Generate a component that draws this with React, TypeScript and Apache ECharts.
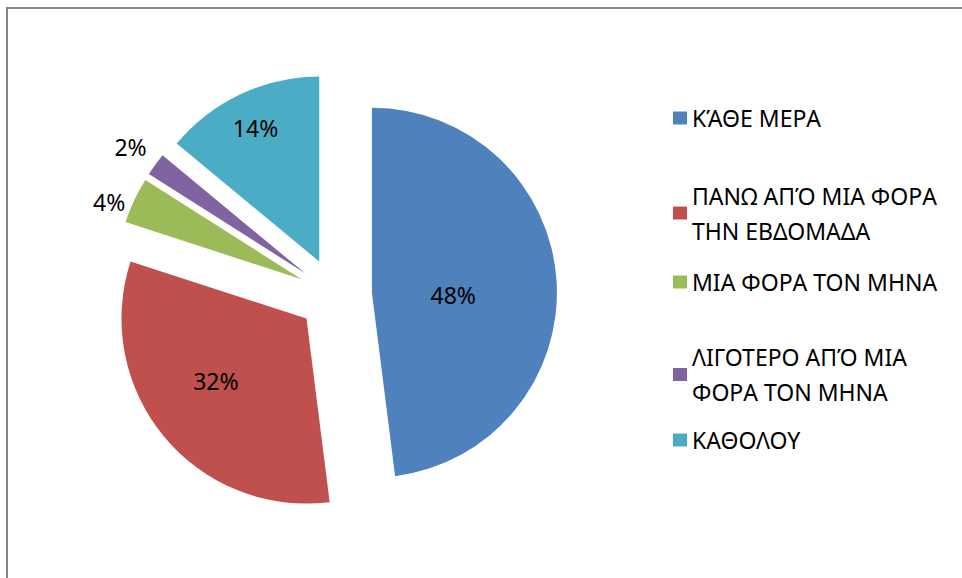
import React, { useEffect, useRef } from "react";
import * as echarts from "echarts";

const categories = [
  "ΚΆΘΕ ΜΕΡΑ",
  "ΠΑΝΩ ΑΠΌ ΜΙΑ ΦΟΡΑ ΤΗΝ ΕΒΔΟΜΑΔΑ",
  "ΜΙΑ ΦΟΡΑ ΤΟΝ ΜΗΝΑ",
  "ΛΙΓΟΤΕΡΟ ΑΠΌ ΜΙΑ ΦΟΡΑ ΤΟΝ ΜΗΝΑ",
  "ΚΑΘΟΛΟΥ",
];
const values = [48, 32, 4, 2, 14];
const legendLines: Record<string, string> = {
  "ΠΑΝΩ ΑΠΌ ΜΙΑ ΦΟΡΑ ΤΗΝ ΕΒΔΟΜΑΔΑ": "ΠΑΝΩ ΑΠΌ ΜΙΑ ΦΟΡΑ\nΤΗΝ ΕΒΔΟΜΑΔΑ",
  "ΛΙΓΟΤΕΡΟ ΑΠΌ ΜΙΑ ΦΟΡΑ ΤΟΝ ΜΗΝΑ": "ΛΙΓΟΤΕΡΟ ΑΠΌ ΜΙΑ\nΦΟΡΑ ΤΟΝ ΜΗΝΑ",
};
const colors = ["#4F81BD", "#C0504D", "#9BBB59", "#8064A2", "#4BACC6"];
const outsideLabel = [false, false, true, true, false];

// layout-only tweaks (not data)
const legendTops = [100.5, 160.5, 264.5, 322, 422.5];
const labelNudge = [
  [-14, 8],
  [-17, 2],
  [7, 7],
  [6, -10],
  [-23, -47],
];
const FONT = "'Noto Sans', sans-serif";

export default function App() {
  const ref = useRef<HTMLDivElement>(null);
  useEffect(() => {
    if (!ref.current) return;
    const chart = echarts.init(ref.current, null, { renderer: "svg" });
    const option: any = {
      animation: false,
      backgroundColor: "#ffffff",
      graphic: [
        {
          type: "rect",
          shape: { x: 7, y: 8, width: 1200, height: 1000 },
          style: { fill: "none", stroke: "#868686", lineWidth: 2 },
          silent: true,
        },
      ],
      legend: categories.map((name, i) => {
        const multi = !!legendLines[name];
        return {
          data: [name],
          orient: "vertical",
          left: 673,
          top: legendTops[i],
          padding: 0,
          itemWidth: 14,
          itemHeight: 13,
          itemGap: 0,
          selectedMode: false,
          icon: "rect",
          formatter: (n: string) => legendLines[n] || n,
          textStyle: {
            fontFamily: FONT,
            fontSize: 23,
            color: "#000000",
            lineHeight: 35,
            padding: multi ? [35, 0, 0, 0] : 0,
          },
        };
      }),
      series: [
        {
          type: "pie",
          center: [335, 295],
          radius: 185,
          startAngle: 90,
          clockwise: true,
          selectedMode: "multiple",
          selectedOffset: 37,
          avoidLabelOverlap: false,
          emphasis: { disabled: true },
          label: {
            show: true,
            position: "inside",
            formatter: "{c}%",
            fontFamily: FONT,
            fontSize: 23,
            color: "#000000",
          },
          labelLine: { show: false, length: 12, length2: 0 },
          labelLayout: (p: any) => ({
            dx: labelNudge[p.dataIndex][0],
            dy: labelNudge[p.dataIndex][1],
          }),
          data: categories.map((name, i) => ({
            name,
            value: values[i],
            selected: true,
            itemStyle: { color: colors[i] },
            select: { itemStyle: { color: colors[i] } },
            label: { position: outsideLabel[i] ? "outside" : "inside" },
          })),
        },
      ],
    };
    chart.setOption(option);
    return () => chart.dispose();
  }, []);
  return (
    <div
      ref={ref}
      style={{ position: "fixed", left: 0, top: 0, width: 962, height: 578 }}
    />
  );
}
